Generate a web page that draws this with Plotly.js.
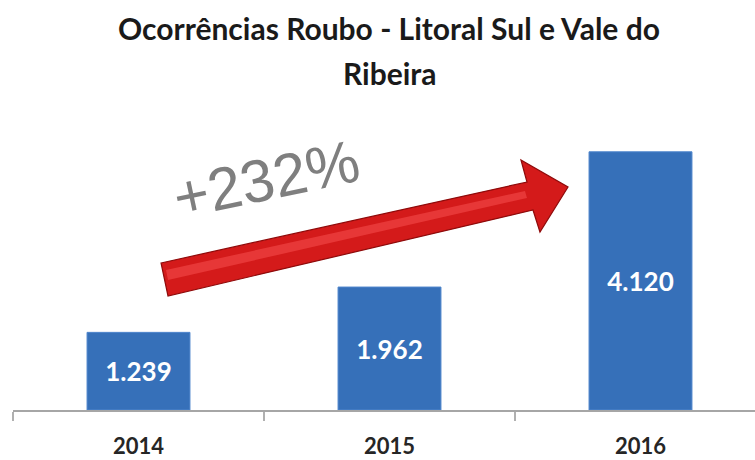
<!DOCTYPE html>
<html>
<head>
<meta charset="utf-8">
<script src="https://cdn.plot.ly/plotly-3.0.1.min.js"></script>
<style>html,body{margin:0;padding:0;background:#fff;}#chart{width:755px;height:460px;}</style>
</head>
<body>
<div id="chart"></div>
<script>
// ---- data ----
const years = ['2014', '2015', '2016'];
const ocorrencias = [1239, 1962, 4120];
const titleLines = ['Ocorrências Roubo - Litoral Sul e Vale do', 'Ribeira'];
const growthLabel = '+232%';

// ---- layout geometry helpers (pixel -> paper) ----
const W = 755, H = 460;
const M = {l: 13, r: 0, t: 128, b: 50};
const PW = W - M.l - M.r, PH = H - M.t - M.b;
const px = x => (x - M.l) / PW;
const py = y => (H - M.b - y) / PH;
function pathFrom(points) {
  return 'M ' + points.map(p => px(p[0]).toFixed(4) + ',' + py(p[1]).toFixed(4)).join(' L ') + ' Z';
}

const narrow = 'Lato, Liberation Sans, sans-serif';

const trace = {
  type: 'bar',
  x: years,
  y: ocorrencias,
  marker: {color: '#3670b9', line: {color: '#4f86cc', width: 1}},
  texttemplate: '%{y:,}',
  textposition: 'inside',
  insidetextanchor: 'middle',
  constraintext: 'none',
  textfont: {family: narrow, size: 26, color: '#ffffff', weight: 'bold'},
  hoverinfo: 'skip',
  width: 0.41
};

const arrowOuter = [[161,263],[527,182],[521,160],[568,187],[540,232],[533,210],[168,296]];
const arrowHighlight = [[166,270],[525,191],[527,198],[168,280]];

const layout = {
  width: W, height: H,
  margin: M,
  paper_bgcolor: '#ffffff',
  plot_bgcolor: '#ffffff',
  separators: ',.',
  showlegend: false,
  xaxis: {
    type: 'category',
    range: [-0.5, -0.5 + PW / 251],
    showline: true, linecolor: '#a6a6a6', linewidth: 2,
    ticks: 'outside', tickson: 'boundaries', ticklen: 9, tickcolor: '#b0b0b0', tickwidth: 2,
    tickfont: {family: narrow, size: 22, color: '#262626', weight: 'bold'},
    ticklabelstandoff: 16,
    showgrid: false, zeroline: false, fixedrange: true
  },
  yaxis: {
    range: [0, 4500],
    visible: false, showgrid: false, zeroline: false, fixedrange: true
  },
  shapes: [
    {type: 'path', xref: 'paper', yref: 'paper', path: pathFrom(arrowOuter),
     fillcolor: '#d41a1a', line: {color: '#8e0a0a', width: 1.2}, layer: 'above'},
    {type: 'path', xref: 'paper', yref: 'paper', path: pathFrom(arrowHighlight),
     fillcolor: 'rgba(255,90,90,0.45)', line: {width: 0}, layer: 'above'}
  ],
  annotations: [
    {text: titleLines[0], xref: 'paper', yref: 'paper', x: px(389), y: py(28),
     xanchor: 'center', yanchor: 'middle', showarrow: false,
     font: {family: narrow, size: 30, color: '#1a1a1a', weight: 'bold'}},
    {text: titleLines[1], xref: 'paper', yref: 'paper', x: px(390), y: py(73),
     xanchor: 'center', yanchor: 'middle', showarrow: false,
     font: {family: narrow, size: 30, color: '#1a1a1a', weight: 'bold'}},
    {text: growthLabel, xref: 'paper', yref: 'paper', x: px(266), y: py(179),
     xanchor: 'center', yanchor: 'middle', showarrow: false, textangle: -12,
     font: {family: 'Liberation Sans, Arial, sans-serif', size: 60, color: '#7f7f7f'}}
  ]
};

Plotly.newPlot('chart', [trace], layout, {displayModeBar: false, staticPlot: true});
</script>
</body>
</html>
